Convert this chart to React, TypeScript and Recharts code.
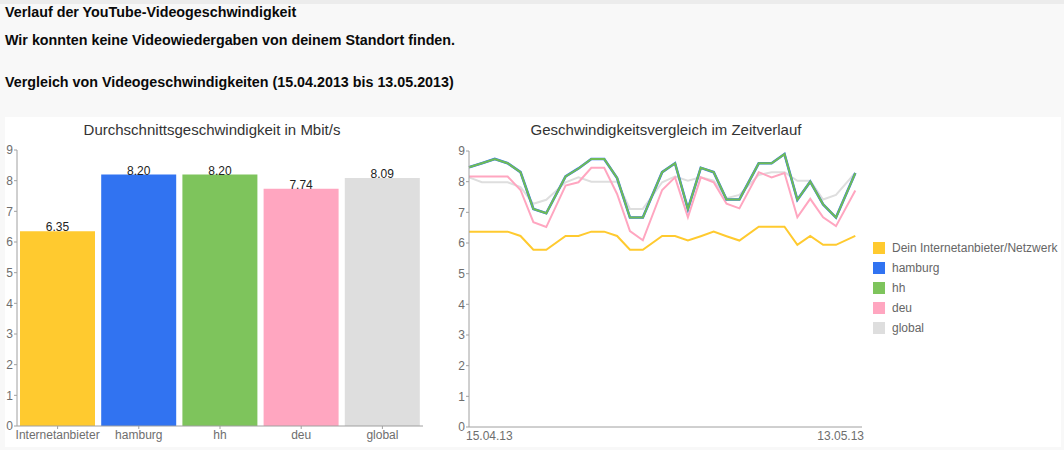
import { Bar, BarChart, Cell, LabelList, Line, LineChart, XAxis, YAxis } from 'recharts';

// bar chart: average speed per group (Mbit/s)
const groups = ['Internetanbieter', 'hamburg', 'hh', 'deu', 'global'];
const averages = [6.35, 8.2, 8.2, 7.74, 8.09];

// legend names for the time chart
const seriesNames = ['Dein Internetanbieter/Netzwerk', 'hamburg', 'hh', 'deu', 'global'];
const colors = ['#ffca2f', '#3173f1', '#7ec45c', '#ffa6c0', '#dedede'];

// time chart: sample position in days after 15.04.13 (as drawn), and values per series
const dayPos = [0, 1, 2, 3, 4, 5, 6, 7.5, 8.5, 9.5, 10.5, 11.5, 12.5, 13.5, 15, 16, 17, 18, 19, 20, 21, 22.5, 23.5, 24.5, 25.5, 26.5, 27.5, 28.5, 30];
const provider = [6.37, 6.37, 6.37, 6.37, 6.23, 5.78, 5.78, 6.23, 6.23, 6.37, 6.37, 6.23, 5.78, 5.78, 6.23, 6.23, 6.08, 6.22, 6.37, 6.22, 6.08, 6.53, 6.53, 6.53, 5.94, 6.23, 5.94, 5.94, 6.23];
const hh = [8.47, 8.6, 8.74, 8.6, 8.31, 7.11, 6.97, 8.17, 8.43, 8.74, 8.74, 8.12, 6.83, 6.83, 8.31, 8.6, 7.11, 8.45, 8.31, 7.42, 7.42, 8.6, 8.6, 8.9, 7.41, 8.0, 7.26, 6.83, 8.28];
const hamburg = hh;
const deu = [8.17, 8.17, 8.17, 8.17, 7.73, 6.68, 6.52, 7.87, 7.98, 8.45, 8.45, 7.6, 6.39, 6.09, 7.73, 8.14, 6.84, 8.14, 7.98, 7.28, 7.13, 8.31, 8.14, 8.28, 6.84, 7.44, 6.84, 6.55, 7.71];
const global = [8.14, 7.98, 7.98, 7.98, 7.82, 7.28, 7.41, 7.98, 8.14, 8.0, 8.0, 8.0, 7.11, 7.11, 7.98, 8.17, 8.03, 8.14, 8.03, 7.46, 7.57, 8.22, 8.31, 8.31, 8.03, 8.03, 7.42, 7.57, 8.29];

const yTicks = [0, 1, 2, 3, 4, 5, 6, 7, 8, 9];
const dateLabels = ['15.04.13', '13.05.13'];
const X_END = 30.52;

const FONT = 'Arial, "Liberation Sans", sans-serif';
const AXIS = '#a0a0a0';
const LABEL = '#6e6e6e';

const barData = groups.map((name, i) => ({ name, value: averages[i] }));
const lineData = dayPos.map((x, i) => ({
  x,
  provider: provider[i],
  hamburg: hamburg[i],
  hh: hh[i],
  deu: deu[i],
  global: global[i],
}));

function DateTick(props: any) {
  const { x, y, index } = props;
  const first = index === 0;
  return (
    <text
      x={first ? x - 3 : x + 2}
      y={y}
      dy="0.71em"
      textAnchor={first ? 'start' : 'end'}
      fontSize={12}
      fill={LABEL}
      fontFamily={FONT}
    >
      {dateLabels[first ? 0 : 1]}
    </text>
  );
}

const headStyle: React.CSSProperties = {
  position: 'absolute',
  left: 5,
  fontSize: 14.3,
  lineHeight: '14px',
  fontWeight: 'bold',
  color: '#0a0a0a',
  whiteSpace: 'nowrap',
};

const titleStyle: React.CSSProperties = {
  position: 'absolute',
  top: 122,
  fontSize: 15,
  lineHeight: '15px',
  color: '#333',
  whiteSpace: 'nowrap',
  transform: 'translateX(-50%)',
};

export default function App() {
  return (
    <div
      style={{
        position: 'absolute',
        left: 0,
        top: 0,
        width: 1064,
        height: 450,
        background: '#f8f8f8',
        fontFamily: FONT,
        overflow: 'hidden',
      }}
    >
      <div style={{ position: 'absolute', left: 0, top: 0, width: 1064, height: 4, background: '#ececec' }} />
      <div style={{ ...headStyle, top: 5 }}>Verlauf der YouTube-Videogeschwindigkeit</div>
      <div style={{ ...headStyle, top: 33 }}>Wir konnten keine Videowiedergaben von deinem Standort finden.</div>
      <div style={{ ...headStyle, top: 75 }}>Vergleich von Videogeschwindigkeiten (15.04.2013 bis 13.05.2013)</div>

      <div style={{ position: 'absolute', left: 5, top: 117, width: 1056, height: 330, background: '#fff' }} />

      <div style={{ ...titleStyle, left: 212 }}>Durchschnittsgeschwindigkeit in Mbit/s</div>
      <div style={{ ...titleStyle, left: 666 }}>Geschwindigkeitsvergleich im Zeitverlauf</div>

      <div style={{ position: 'absolute', left: 0, top: 117 }}>
        <BarChart
          width={440}
          height={330}
          data={barData}
          margin={{ top: 33, right: 17, bottom: 0, left: 5 }}
          barCategoryGap={3}
        >
          <XAxis
            dataKey="name"
            height={21}
            stroke={AXIS}
            tickSize={3}
            tickMargin={1}
            tick={{ fontSize: 12, fill: LABEL, fontFamily: FONT }}
            interval={0}
          />
          <YAxis
            width={12}
            domain={[0, 9]}
            ticks={yTicks}
            interval={0}
            stroke={AXIS}
            tickSize={3}
            tickMargin={1}
            tick={{ fontSize: 12, fill: LABEL, fontFamily: FONT }}
          />
          <Bar dataKey="value" isAnimationActive={false}>
            {barData.map((d, i) => (
              <Cell key={d.name} fill={colors[i]} />
            ))}
            <LabelList
              dataKey="value"
              position="top"
              offset={0}
              formatter={(v: any) => Number(v).toFixed(2)}
              style={{ fontSize: 12, fill: '#222', fontFamily: FONT }}
            />
          </Bar>
        </BarChart>
      </div>

      <div style={{ position: 'absolute', left: 440, top: 117 }}>
        <LineChart width={621} height={330} data={lineData} margin={{ top: 34, right: 199, bottom: 0, left: 5 }}>
          <XAxis
            dataKey="x"
            type="number"
            domain={[0, X_END]}
            ticks={[0, X_END]}
            height={20}
            stroke={AXIS}
            tickLine={false}
            tickSize={3}
            tickMargin={1}
            tick={<DateTick />}
            interval={0}
          />
          <YAxis
            width={24}
            domain={[0, 9]}
            ticks={yTicks}
            interval={0}
            stroke={AXIS}
            tickSize={3}
            tickMargin={1}
            tick={{ fontSize: 12, fill: LABEL, fontFamily: FONT }}
          />
          <Line dataKey="global" stroke={colors[4]} strokeWidth={2} dot={false} isAnimationActive={false} />
          <Line dataKey="provider" stroke={colors[0]} strokeWidth={2} dot={false} isAnimationActive={false} />
          <Line dataKey="deu" stroke={colors[3]} strokeWidth={2} dot={false} isAnimationActive={false} />
          <Line dataKey="hamburg" stroke={colors[1]} strokeWidth={2.6} dot={false} isAnimationActive={false} />
          <Line dataKey="hh" stroke={'#6fbc55'} strokeWidth={2} dot={false} isAnimationActive={false} />
        </LineChart>
      </div>

      {seriesNames.map((name, i) => (
        <div
          key={name}
          style={{
            position: 'absolute',
            left: 873,
            top: 241 + i * 20,
            height: 13,
            display: 'flex',
            alignItems: 'center',
            whiteSpace: 'nowrap',
          }}
        >
          <div style={{ width: 12, height: 12, background: colors[i], marginRight: 7 }} />
          <span style={{ fontSize: 12, color: '#666' }}>{name}</span>
        </div>
      ))}
    </div>
  );
}
